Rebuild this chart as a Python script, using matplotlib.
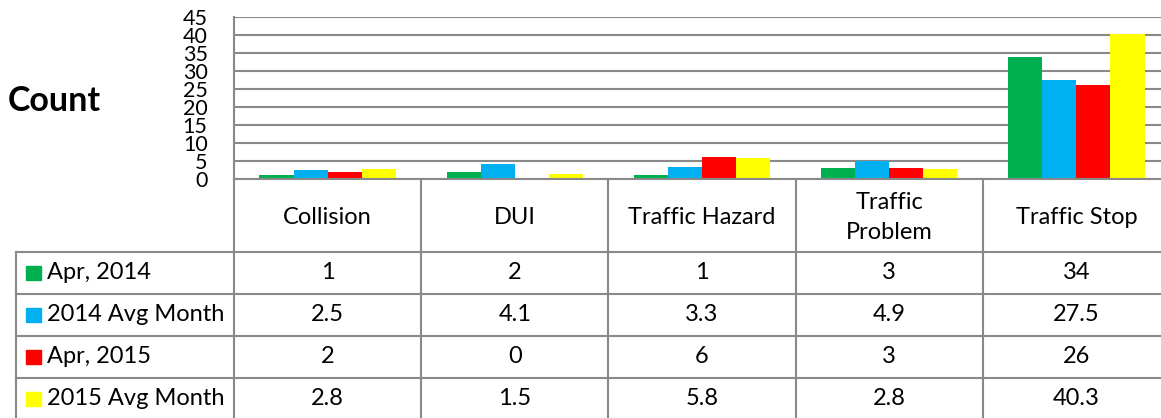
import matplotlib
matplotlib.use("Agg")
import matplotlib.pyplot as plt
import numpy as np

categories = ["Collision", "DUI", "Traffic Hazard", "Traffic\nProblem", "Traffic Stop"]
series_names = ["Apr, 2014", "2014 Avg Month", "Apr, 2015", "2015 Avg Month"]
apr_2014 = [1, 2, 1, 3, 34]
avg_2014 = [2.5, 4.1, 3.3, 4.9, 27.5]
apr_2015 = [2, 0, 6, 3, 26]
avg_2015 = [2.8, 1.5, 5.8, 2.8, 40.3]
series_values = [apr_2014, avg_2014, apr_2015, avg_2015]
series_colors = ["#00B050", "#00B0F0", "#FF0000", "#FFFF00"]
y_ticks = [0, 5, 10, 15, 20, 25, 30, 35, 40, 45]

plt.rcParams['font.family'] = ['Lato', 'DejaVu Sans']

W, H = 1161, 418
fig = plt.figure(figsize=(W / 100, H / 100), dpi=100)

grid_col = "#898989"
lw = 1.5

# pixel layout
x_left, x_right = 234, 1170
y_top, y_zero = 17, 179
cat_w = (x_right - x_left) / len(categories)

ax = fig.add_axes([x_left / W, 1 - y_zero / H, (x_right - x_left) / W, (y_zero - y_top) / H])
n = len(categories)
x = np.arange(n)
bw = 0.182
for i, (vals, col) in enumerate(zip(series_values, series_colors)):
    ax.bar(x + (i - 1.5) * bw, vals, width=bw, color=col, linewidth=0, zorder=3)
ax.set_xlim(-0.5, n - 0.5)
ax.set_ylim(0, 45)
ax.set_yticks(y_ticks)
ax.set_yticklabels([str(t) for t in y_ticks], fontsize=15.5)
ax.tick_params(axis='y', length=0, pad=19)
ax.set_xticks([])
ax.yaxis.grid(True, color=grid_col, linewidth=lw, zorder=0)
for s in ["top", "right", "bottom"]:
    ax.spines[s].set_visible(False)
ax.spines["left"].set_color(grid_col)
ax.spines["left"].set_linewidth(lw)

fig.text(8 / W, 1 - 101 / H, "Count", fontsize=24.5, fontweight="bold", va="center", ha="left")

# table axes
leg_left = 16
y_bottom = 420
tax = fig.add_axes([leg_left / W, 1 - y_bottom / H, (x_right - leg_left) / W, (y_bottom - y_zero) / H])
lx = -0.5 - (x_left - leg_left) / cat_w
tax.set_xlim(lx, n - 0.5)
tax.set_ylim(y_bottom, y_zero)
tax.axis("off")

header_bottom = 252
row_h = (y_bottom - header_bottom) / 4

# horizontal lines
tax.plot([-0.5, n - 0.5], [y_zero, y_zero], color=grid_col, lw=lw, clip_on=False)
for r in range(5):
    yy = header_bottom + r * row_h
    tax.plot([lx, n - 0.5], [yy, yy], color=grid_col, lw=lw, clip_on=False)
# vertical lines
tax.plot([lx, lx], [header_bottom, y_bottom], color=grid_col, lw=lw, clip_on=False)
for c in range(n + 1):
    xx = -0.5 + c
    tax.plot([xx, xx], [y_zero, y_bottom], color=grid_col, lw=lw, clip_on=False)

# header text
for c, cat in enumerate(categories):
    tax.text(c, (y_zero + header_bottom) / 2 + 2, cat, ha="center", va="center",
             fontsize=17, linespacing=1.5)

# rows
px = 1.0 / cat_w
for r, (name, vals, col) in enumerate(zip(series_names, series_values, series_colors)):
    yc = header_bottom + (r + 0.5) * row_h
    tax.add_patch(plt.Rectangle((lx + 10 * px, yc - 7), 15 * px, 14, color=col, clip_on=False))
    tax.text(lx + 31 * px, yc, name, ha="left", va="center", fontsize=17)
    for c, v in enumerate(vals):
        tax.text(c, yc, f"{v:g}", ha="center", va="center", fontsize=17)

fig.savefig("out.png", dpi=100)
